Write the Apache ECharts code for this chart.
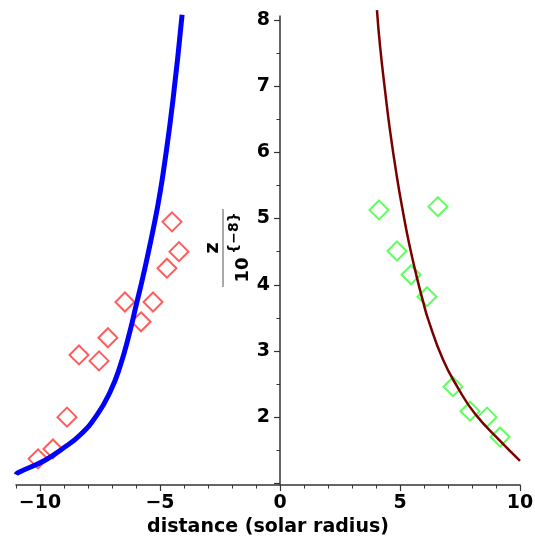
<!DOCTYPE html>
<html lang="en">
<head>
    <meta charset="UTF-8">
    <title>distance vs z</title>
    <style>
        html, body {
            padding: 0;
            margin: 0;
            background: #fff;
        }

        .echarts {
            width: 535px;
            height: 538px;
        }
    </style>
    <script src="https://cdn.jsdelivr.net/npm/echarts@6/dist/echarts.min.js"></script>
</head>
<body>
<div class="echarts" id="echarts"></div>
</body>
<script>
    // 左侧数据点 (红色菱形)
    var leftX = [-10.08, -9.46, -8.875, -8.375, -7.54, -7.17, -6.46, -5.79, -5.29, -4.71, -4.21, -4.5];
    var leftY = [1.37, 1.52, 2.0, 2.94, 2.85, 3.20, 3.74, 3.44, 3.74, 4.25, 4.50, 4.95];
    // 右侧数据点 (绿色菱形)
    var rightX = [4.125, 6.58, 4.875, 5.46, 6.125, 7.21, 7.92, 8.625, 9.17];
    var rightY = [5.13, 5.18, 4.51, 4.15, 3.82, 2.46, 2.09, 2.0, 1.70];
    // 蓝色曲线
    var blueX = [-11, -10.92, -9.79, -9.08, -8.33, -7.63, -7.08, -6.67, -6.25, -6.0, -5.71, -5.42, -5.21, -5.04, -4.83, -4.46, -4.08];
    var blueY = [1.13, 1.16, 1.35, 1.52, 1.73, 2.03, 2.38, 2.76, 3.30, 3.68, 4.12, 4.60, 4.97, 5.30, 5.78, 6.79, 8.08];
    // 深红色曲线
    var redX = [4.04, 4.17, 4.375, 4.58, 4.875, 5.125, 5.375, 5.71, 5.96, 6.17, 6.79, 7.42, 8.125, 9.17, 10];
    var redY = [8.15, 7.60, 6.94, 6.34, 5.62, 5.10, 4.63, 4.10, 3.75, 3.48, 2.87, 2.44, 2.05, 1.64, 1.34];
    // 刻度
    var xMajor = [-10, -5, 0, 5, 10];
    var xMinor = [-11, -9, -8, -7, -6, -4, -3, -2, -1, 1, 2, 3, 4, 6, 7, 8, 9];
    var yMajor = [1, 2, 3, 4, 5, 6, 7, 8];
    var yLabels = [2, 3, 4, 5, 6, 7, 8];
    var yMinor = [1.5, 2.5, 3.5, 4.5, 5.5, 6.5, 7.5];

    function zip(xs, ys) {
        return xs.map(function (v, i) { return [v, ys[i]]; });
    }

    var font = 'DejaVu Sans';
    var axisColor = '#333';
    var gridLeft = 16;
    var zeroX = 280; // y 轴所在像素位置 (x = 0)

    var chartDom = document.getElementById('echarts');
    var myChart = echarts.init(chartDom, null, { width: 535, height: 538 });

    var option = {
        animation: false,
        grid: { left: gridLeft, right: 15, top: 16, bottom: 53, containLabel: false, outerBoundsMode: 'none' },
        xAxis: [{
            type: 'value', min: -11, max: 10,
            splitLine: { show: false },
            axisLine: { onZero: false, lineStyle: { color: axisColor, width: 1.5 } },
            axisTick: { customValues: xMajor, length: 6, lineStyle: { color: axisColor, width: 1.2 } },
            axisLabel: {
                customValues: xMajor, margin: 9,
                fontFamily: font, fontWeight: 'bold', fontSize: 19, color: '#000',
                formatter: function (v) { return String(v).replace('-', '\u2212'); }
            },
            name: 'distance (solar radius)', nameLocation: 'middle', nameGap: 26,
            nameTextStyle: { fontFamily: font, fontWeight: 'bold', fontSize: 19, color: '#000' }
        }, {
            type: 'value', min: -11, max: 10, position: 'bottom',
            splitLine: { show: false },
            axisLine: { show: false, onZero: false },
            axisTick: { customValues: xMinor, length: 3.5, lineStyle: { color: axisColor, width: 1 } },
            axisLabel: { show: false }
        }],
        yAxis: [{
            type: 'value', min: 0.975, max: 8.06, position: 'left', offset: gridLeft - zeroX,
            splitLine: { show: false },
            axisLine: { onZero: false, lineStyle: { color: axisColor, width: 1.5 } },
            axisTick: { customValues: yMajor, length: 6, lineStyle: { color: axisColor, width: 1.2 } },
            axisLabel: {
                customValues: yLabels, margin: 10,
                fontFamily: font, fontWeight: 'bold', fontSize: 19, color: '#000'
            }
        }, {
            type: 'value', min: 0.975, max: 8.06, position: 'left', offset: gridLeft - zeroX,
            splitLine: { show: false },
            axisLine: { show: false, onZero: false },
            axisTick: { customValues: yMinor, length: 3.5, lineStyle: { color: axisColor, width: 1 } },
            axisLabel: { show: false }
        }],
        series: [{
            type: 'scatter', data: zip(leftX, leftY),
            symbol: 'diamond', symbolSize: 19,
            itemStyle: { color: 'rgba(0,0,0,0)', borderColor: '#ff3333', borderWidth: 2 }
        }, {
            type: 'scatter', data: zip(rightX, rightY),
            symbol: 'diamond', symbolSize: 19,
            itemStyle: { color: 'rgba(0,0,0,0)', borderColor: '#33ff33', borderWidth: 2 }
        }, {
            type: 'line', data: zip(blueX, blueY),
            showSymbol: false, smooth: 0.5, clip: false,
            lineStyle: { color: '#0000ff', width: 5 }
        }, {
            type: 'line', data: zip(redX, redY),
            showSymbol: false, smooth: 0.5, clip: false,
            lineStyle: { color: '#7a0000', width: 2.5 }
        }],
        // y 轴标题: z / 10^{-8}, 旋转显示
        graphic: [{
            type: 'text', x: 213, y: 248, rotation: Math.PI / 2,
            style: { text: 'z', font: 'bold 19px "DejaVu Sans"', fill: '#000', align: 'center', verticalAlign: 'middle' }
        }, {
            type: 'line', shape: { x1: 223, y1: 209, x2: 223, y2: 287 },
            style: { stroke: '#555', lineWidth: 1 }
        }, {
            type: 'text', x: 243, y: 270, rotation: Math.PI / 2,
            style: { text: '10', font: 'bold 18px "DejaVu Sans"', fill: '#000', align: 'center', verticalAlign: 'middle' }
        }, {
            type: 'text', x: 234, y: 233, rotation: Math.PI / 2,
            style: { text: '{\u22128}', font: 'bold 14px "DejaVu Sans"', fill: '#000', align: 'center', verticalAlign: 'middle' }
        }]
    };
    myChart.setOption(option);
</script>
</html>
